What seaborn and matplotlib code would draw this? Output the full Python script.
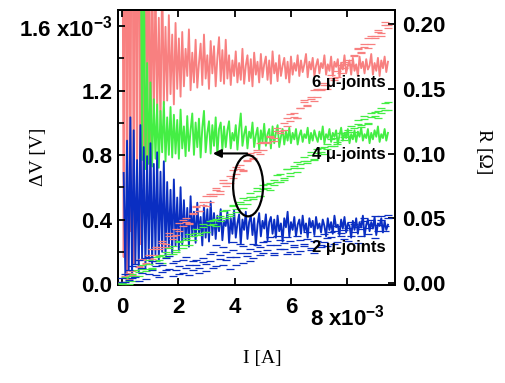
import numpy as np
import pandas as pd
import matplotlib
matplotlib.use('Agg')
import matplotlib.pyplot as plt
import seaborn as sns
from matplotlib.patches import Ellipse
from matplotlib.ticker import FixedLocator
from matplotlib.transforms import ScaledTranslation

plt.rcParams['font.family'] = ['Liberation Sans', 'DejaVu Sans']
plt.rcParams['mathtext.fontset'] = 'custom'
plt.rcParams['mathtext.bf'] = 'Liberation Sans:bold'
plt.rcParams['mathtext.rm'] = 'Liberation Sans'

# ---------------- data ----------------
I_max = 9.45e-3  # end of current sweep [A]
series_names = ['6 μ-joints', '4 μ-joints', '2 μ-joints']
series_colors = ['#F88080', '#44EE44', '#0A2EC2']

# resistance R = dV/I (right axis), in milli-ohm, evenly spaced in I
R_6_mOhm = [400, 20, 420, 5, 380, 40, 450, 15, 390, 60, 410, 30, 360, 75, 330, 90, 300, 70,
            260, 125, 230, 132, 205, 120, 240, 138,
            198, 141, 207, 146, 192, 138, 201, 150, 189, 144,
            194, 152, 181, 160, 196, 149, 178, 155, 188, 151, 170, 185, 153, 192, 158, 176, 150, 187,
            162, 183, 152, 174, 190, 156, 180,
            154, 188, 158, 176, 153, 172, 160, 179, 155, 170, 157, 181, 154, 168, 176, 156, 173, 152,
            178, 161, 171, 155, 177, 159, 169, 175, 157, 172, 154, 179, 162, 170, 156, 176, 160, 168,
            174, 158, 171, 155,
            175, 161, 170, 164, 176, 160, 172, 163, 169, 177, 159, 171, 165, 174, 160, 168, 173, 162,
            170, 166, 176, 161, 169, 164, 175, 160, 171, 167, 173, 159, 170, 165, 176, 162, 168, 172,
            161, 174, 164, 169, 160, 175, 166, 171, 162, 173, 165, 168, 177, 161, 170, 164, 174, 160,
            172, 166, 175, 163, 171]
R_4_mOhm = [None] * 11 + [
            320, 95, 260, 88, 170, 92, 155, 90, 142, 96, 138, 89, 133, 101, 140, 94, 128, 99, 136, 97,
            130, 100, 126, 96, 134, 104, 121, 98, 129, 102, 118, 131, 99, 124, 105, 127, 97, 120, 133,
            101, 116, 125, 100, 122, 106, 128, 99, 119, 124, 103,
            121, 105, 118, 125, 104, 116, 110, 122, 103, 119, 131, 106, 115, 121, 104, 117, 112, 124,
            105, 114, 120, 103, 118, 109, 123, 106, 115, 119, 104, 121, 108, 116, 122, 105, 113, 119,
            107, 117, 110, 120,
            108, 116, 111, 119, 107, 114, 118, 109, 115, 112, 120, 108, 116, 110, 118, 113, 109, 117,
            111, 121, 108, 115, 112, 119, 109, 116, 113, 118, 107, 114, 120, 110, 116, 112, 119, 108,
            115, 111, 118, 109, 117, 113, 120, 110, 115, 112, 119, 108, 116, 111, 118, 113, 121, 109,
            115, 112, 119, 110, 116]
R_2_mOhm = [None] + [
            85, 5, 110, 10, 128, 3, 118, 15, 95, 8, 122, 18,
            105, 12, 98, 20, 108, 14, 92, 22, 101, 17, 86, 24, 94,
            21, 78, 27, 72, 23, 80, 29, 66, 25, 74,
            30, 64, 33, 58, 28, 67, 36, 55, 31, 62, 38, 51, 29, 60, 35, 57, 32, 63, 37, 54,
            34, 52, 40, 57, 33, 48, 44, 55, 31, 50, 38, 56, 35, 46, 53, 30, 49, 41, 55, 34, 47, 52,
            37, 50, 29, 45, 54, 36, 48, 42, 53, 33, 47, 51, 38, 49, 35, 52, 40, 46, 32, 50, 43, 55, 36,
            47, 41, 51, 36, 45, 49, 38, 52, 40, 46, 35, 50, 43, 48, 37, 51, 42, 46, 39, 49, 44, 36,
            50, 41, 47, 38, 52, 43, 45, 37, 49, 42, 51, 39, 46, 44, 35, 48, 41, 50, 38, 47, 43, 52,
            36, 45, 49, 40, 47, 42, 51, 37, 46, 44, 50, 39, 48, 41, 45]

# voltage drop dV (left axis), in micro-volt, evenly spaced in I (two readings per current)
dV_6a_uV = [15, 0, 71, 56, 52, 112, 148, 128, 164, 219, 180, 230, 265, 231, 296, 297, 342, 328,
            398, 384, 379, 439, 475, 455, 491, 546, 507, 557, 593, 558, 624, 624, 669, 655, 725,
            711, 706, 767, 802, 783, 818, 873, 834, 884, 920, 885, 951, 951, 997, 982, 1053, 1038,
            1033, 1094, 1129, 1110, 1145, 1201, 1161, 1212, 1247, 1212, 1278, 1278, 1324, 1309,
            1380, 1365, 1361, 1421, 1457, 1437, 1472, 1528, 1488, 1539, 1574, 1540, 1605, 1606]
dV_6b_uV = [8, 50, 31, 81, 47, 107, 158, 123, 179, 154, 230, 220, 255, 251, 316, 282, 302, 378,
            358, 409, 374, 434, 485, 450, 506, 481, 557, 547, 583, 578, 644, 609, 629, 705, 685,
            736, 701, 762, 812, 778, 833, 808, 884, 874, 910, 905, 971, 936, 957, 1032, 1013, 1063,
            1028, 1089, 1139, 1105, 1160, 1136, 1211, 1202, 1237, 1232, 1298, 1263, 1284, 1359,
            1340, 1390, 1356, 1416, 1467, 1432, 1487, 1463, 1538, 1529, 1564, 1560, 1625, 1591]
dV_4a_uV = [5, 39, 3, 47, 86, 50, 94, 93, 147, 101, 140, 174, 133, 197, 186, 235, 209, 263, 222,
            271, 310, 274, 318, 317, 371, 325, 364, 398, 357, 421, 410, 459, 433, 487, 446, 495,
            534, 498, 542, 541, 595, 549, 588, 622, 581, 645, 634, 683, 657, 711, 670, 719, 758,
            722, 766, 765, 819, 773, 812, 846, 805, 869, 858, 907, 881, 935, 894, 943, 982, 946,
            990, 989, 1043, 997, 1036, 1070, 1029, 1093, 1082, 1131]
dV_4b_uV = [2, 44, 18, 62, 21, 75, 119, 78, 127, 96, 165, 149, 178, 167, 226, 185, 199, 268, 242,
            286, 245, 299, 343, 302, 351, 320, 389, 373, 402, 391, 450, 409, 423, 492, 466, 510,
            469, 523, 567, 526, 575, 544, 613, 597, 626, 615, 674, 633, 647, 716, 690, 734, 693,
            747, 791, 750, 799, 768, 837, 821, 850, 839, 898, 857, 871, 940, 914, 958, 917, 971,
            1015, 974, 1023, 992, 1061, 1045, 1074, 1063, 1122, 1081]
dV_2a_uV = [10, 60, 25, 110, 45, 150, 70, 30, 170, 90, 55,
            130, 75, 160, 95, 50, 140, 110, 70, 165, 120, 85, 150, 100, 135, 80,
            140, 200, 110, 180, 230, 150, 95, 210, 170, 250, 130, 190, 220, 160, 240,
            180, 260, 210, 290, 195, 240, 275, 220, 185, 265, 230, 300, 205, 250, 280, 225, 190,
            270, 245, 310,
            235, 290, 330, 260, 315, 280, 350, 300, 370, 255, 340, 390, 310, 400, 285, 365, 420,
            330, 410]
dV_2b_uV = [35, 15, 85, 40, 125, 20, 100, 160, 60, 140, 110,
            45, 120, 90, 175, 130, 85, 60, 150, 100, 55, 140, 115, 70, 160, 125,
            185, 100, 240, 155, 120, 200, 170, 260, 115, 190, 235, 175, 140, 250, 205,
            230, 195, 270, 240, 180, 300, 215, 255, 290, 200, 245, 185, 275, 235, 320, 210, 265,
            295, 230, 260,
            285, 320, 250, 360, 300, 335, 270, 385, 325, 355, 300, 410, 345, 375, 420, 330, 395,
            360, 430]

R_lists = [R_6_mOhm, R_4_mOhm, R_2_mOhm]
dV_lists = [(dV_6a_uV, dV_6b_uV), (dV_4a_uV, dV_4b_uV), (dV_2a_uV, dV_2b_uV)]

# ---------------- figure ----------------
fig = plt.figure(figsize=(5.05, 3.83), dpi=100)
ax = fig.add_axes([0.2337, 0.2559, 0.5485, 0.718])
ax2 = ax.twinx()
ax.set_zorder(ax2.get_zorder() + 1)
ax.patch.set_visible(False)

for R, c in zip(R_lists, series_colors):
    df = pd.DataFrame({'I': np.linspace(0, I_max, len(R)),
                       'R': np.array([np.nan if v is None else v for v in R], float) * 1e-3})
    df = df.dropna()
    sns.lineplot(data=df, x='I', y='R', ax=ax2, color=c, lw=1.35,
                 estimator=None, sort=False, legend=False)

for (Va, Vb), c in zip(dV_lists, series_colors):
    frames = [pd.DataFrame({'I': np.linspace(0, I_max, len(V)),
                            'dV': np.array(V, float) * 1e-6}) for V in (Va, Vb)]
    df = pd.concat(frames, ignore_index=True)
    sns.scatterplot(data=df, x='I', y='dV', ax=ax, marker='_', s=34, color=c,
                    linewidth=0.9, legend=False, zorder=3)

# axes limits / ticks
ax.set_xlim(-0.142e-3, 9.70e-3)
ax.set_ylim(-0.006e-3, 1.70e-3)
ax2.set_ylim(-0.0016, 0.211)

xt = [0, 2e-3, 4e-3, 6e-3, 8e-3]
ax.xaxis.set_major_locator(FixedLocator(xt))
ax.set_xticklabels(['0', '2', '4', '6', r'8 x10$^{\mathbf{-3}}$'], fontsize=16, fontweight='bold')
yt = [0, 0.4e-3, 0.8e-3, 1.2e-3, 1.6e-3]
ax.yaxis.set_major_locator(FixedLocator(yt))
ax.yaxis.set_minor_locator(FixedLocator([0.2e-3, 0.6e-3, 1.0e-3, 1.4e-3]))
ax.set_yticklabels(['0.0', '0.4', '0.8', '1.2', r'1.6 x10$^{\mathbf{-3}}$'], fontsize=16,
                   fontweight='bold')
rt = [0, 0.05, 0.10, 0.15, 0.20]
ax2.yaxis.set_major_locator(FixedLocator(rt))
ax2.set_yticklabels(['0.00', '0.05', '0.10', '0.15', '0.20'], fontsize=16, fontweight='bold')

ax.tick_params(axis='x', which='both', direction='in', top=True, bottom=True, length=5,
               width=1.3, pad=9, colors='black')
ax.tick_params(axis='y', which='major', direction='in', left=True, right=False, length=5,
               width=1.3, pad=4, colors='black')
ax.tick_params(axis='y', which='minor', direction='in', left=True, right=False, length=4,
               width=1.2)
ax2.tick_params(axis='y', direction='in', right=True, length=5, width=1.3, pad=5, colors='black')

for a in (ax, ax2):
    a.set_xlabel('')
    a.set_ylabel('')
    for sp in a.spines.values():
        sp.set_linewidth(1.4)
        sp.set_color('black')

# shift the "8 x10^-3" label down a bit
lab = ax.get_xticklabels()[-1]
lab.set_transform(lab.get_transform() + ScaledTranslation(0, -7 / 100, fig.dpi_scale_trans))

# axis titles (serif)
fig.text(39 / 505, 1 - 157 / 383, 'ΔV [V]', rotation=90, ha='center', va='center',
         family=['Liberation Serif', 'DejaVu Serif'], fontsize=14)
fig.text(483 / 505, 1 - 152 / 383, 'R [Ω]', rotation=-90, ha='center', va='center',
         family=['Liberation Serif', 'DejaVu Serif'], fontsize=14)
fig.text(262 / 505, 1 - 358 / 383, 'I [A]', ha='center', va='center',
         family=['Liberation Serif', 'DejaVu Serif'], fontsize=14)

# series labels
for name, yfrac in zip(series_names, [0.738, 0.476, 0.135]):
    ax.text(0.9675, yfrac, name, transform=ax.transAxes, ha='right', va='center',
            fontsize=12, fontweight='bold', zorder=6)

# ellipse + arrow
ax.add_patch(Ellipse((4.48e-3, 0.61e-3), 1.066e-3, 0.38e-3, fill=False, lw=1.6,
                     ec='black', zorder=7))
ax.annotate('', xy=(3.23e-3, 0.81e-3), xytext=(4.45e-3, 0.81e-3),
            arrowprops=dict(arrowstyle='-|>', color='black', lw=1.5, mutation_scale=12,
                            shrinkA=0, shrinkB=0), zorder=7)

fig.savefig('out.png', dpi=100)
